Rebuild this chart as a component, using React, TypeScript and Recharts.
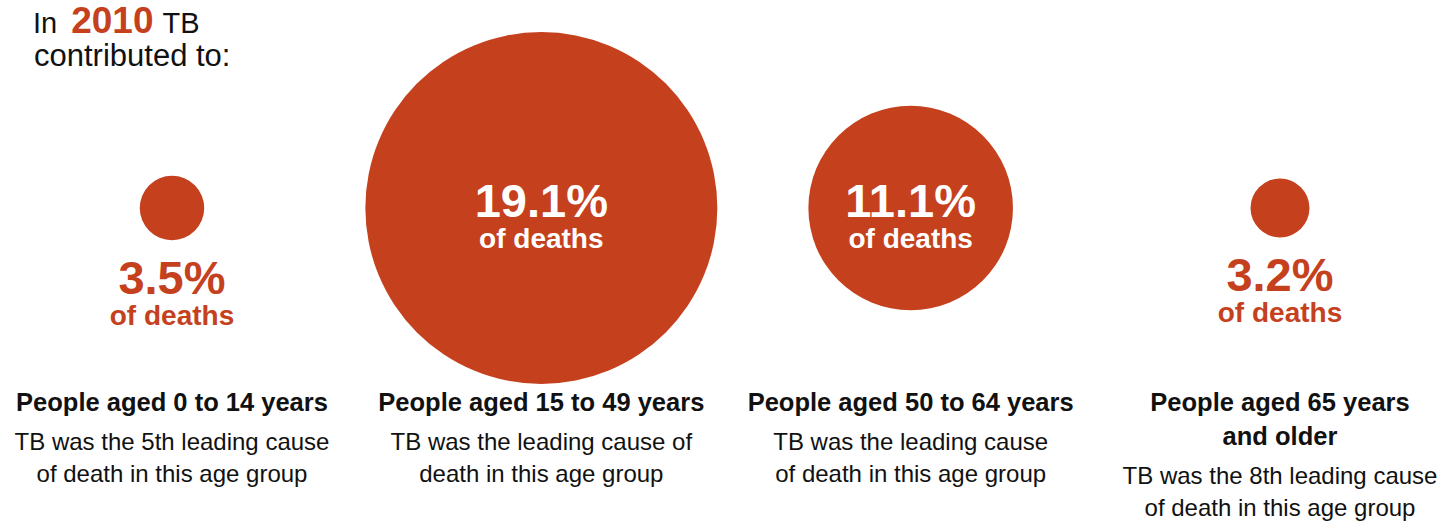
import React from "react";
import { ScatterChart, Scatter, XAxis, YAxis, ZAxis } from "recharts";

// ---- data ----
const ageGroups = ["0 to 14", "15 to 49", "50 to 64", "65+"];
const groupTitles = [
  ["People aged 0 to 14 years"],
  ["People aged 15 to 49 years"],
  ["People aged 50 to 64 years"],
  ["People aged 65 years", "and older"],
];
const groupNotes = [
  ["TB was the 5th leading cause", "of death in this age group"],
  ["TB was the leading cause of", "death in this age group"],
  ["TB was the leading cause", "of death in this age group"],
  ["TB was the 8th leading cause", "of death in this age group"],
];
const tbShareOfDeaths = [3.5, 19.1, 11.1, 3.2];
const titleYear = "2010";

const RED = "#C5411E";
const INK = "#111111";
const FONT = "'Liberation Sans', Arial, Helvetica, sans-serif";

const data = ageGroups.map((g, i) => ({
  group: g,
  metric: "TB share of deaths",
  share: tbShareOfDeaths[i],
}));

function Bubble(props: any) {
  const { cx, cy, size, payload } = props;
  const r = size;
  const inside = r > 60;
  const label = `${payload.share.toFixed(1)}%`;
  const pctY = inside ? cy + 9 : cy + r + 54;
  const subY = inside ? cy + 40 : cy + r + 85;
  const fill = inside ? "#ffffff" : RED;
  return (
    <g>
      <circle cx={cx} cy={cy} r={r} fill={RED} />
      <text
        x={cx}
        y={pctY}
        textAnchor="middle"
        fontFamily={FONT}
        fontWeight={700}
        fontSize={47}
        fill={fill}
      >
        {label}
      </text>
      <text
        x={cx}
        y={subY}
        textAnchor="middle"
        fontFamily={FONT}
        fontWeight={700}
        fontSize={28}
        fill={fill}
      >
        of deaths
      </text>
    </g>
  );
}

function GroupTick(props: any) {
  const { x, y, payload } = props;
  const i = ageGroups.indexOf(payload.value);
  const title = groupTitles[i];
  const note = groupNotes[i];
  const base = y - 5;
  const noteStart = base + (title.length - 1) * 34 + 39;
  return (
    <g>
      {title.map((t, k) => (
        <text
          key={"t" + k}
          x={x}
          y={base + k * 34}
          textAnchor="middle"
          fontFamily={FONT}
          fontWeight={700}
          fontSize={25.5}
          fill={INK}
        >
          {t}
        </text>
      ))}
      {note.map((t, k) => (
        <text
          key={"n" + k}
          x={x}
          y={noteStart + k * 32}
          textAnchor="middle"
          fontFamily={FONT}
          fontSize={24}
          fill={INK}
        >
          {t}
        </text>
      ))}
    </g>
  );
}

export default function App() {
  return (
    <div style={{ position: "absolute", left: 0, top: 0, width: 1443, height: 522, background: "#fff" }}>
      <ScatterChart
        width={1443}
        height={522}
        margin={{ top: 0, right: 163, bottom: 0, left: 172 }}
      >
        <XAxis
          type="category"
          dataKey="group"
          scale="point"
          interval={0}
          height={106}
          axisLine={false}
          tickLine={false}
          tickSize={0}
          tickMargin={0}
          tick={<GroupTick />}
          allowDuplicatedCategory={false}
        />
        <YAxis type="category" dataKey="metric" hide allowDuplicatedCategory={false} />
        <ZAxis type="number" dataKey="share" domain={[0, "dataMax"]} range={[0, 176]} />
        <Scatter data={data} shape={<Bubble />} isAnimationActive={false} />
      </ScatterChart>
      <svg
        width={400}
        height={80}
        style={{ position: "absolute", left: 0, top: 0, pointerEvents: "none" }}
      >
        <text x={33} y={33} fontFamily={FONT} fontSize={29} fill={INK}>
          In
          <tspan dx={14} fontWeight={700} fontSize={37} fill={RED}>
            {titleYear}
          </tspan>
          <tspan dx={9}>TB</tspan>
        </text>
        <text x={34} y={66} fontFamily={FONT} fontSize={31} fill={INK}>
          contributed to:
        </text>
      </svg>
    </div>
  );
}
